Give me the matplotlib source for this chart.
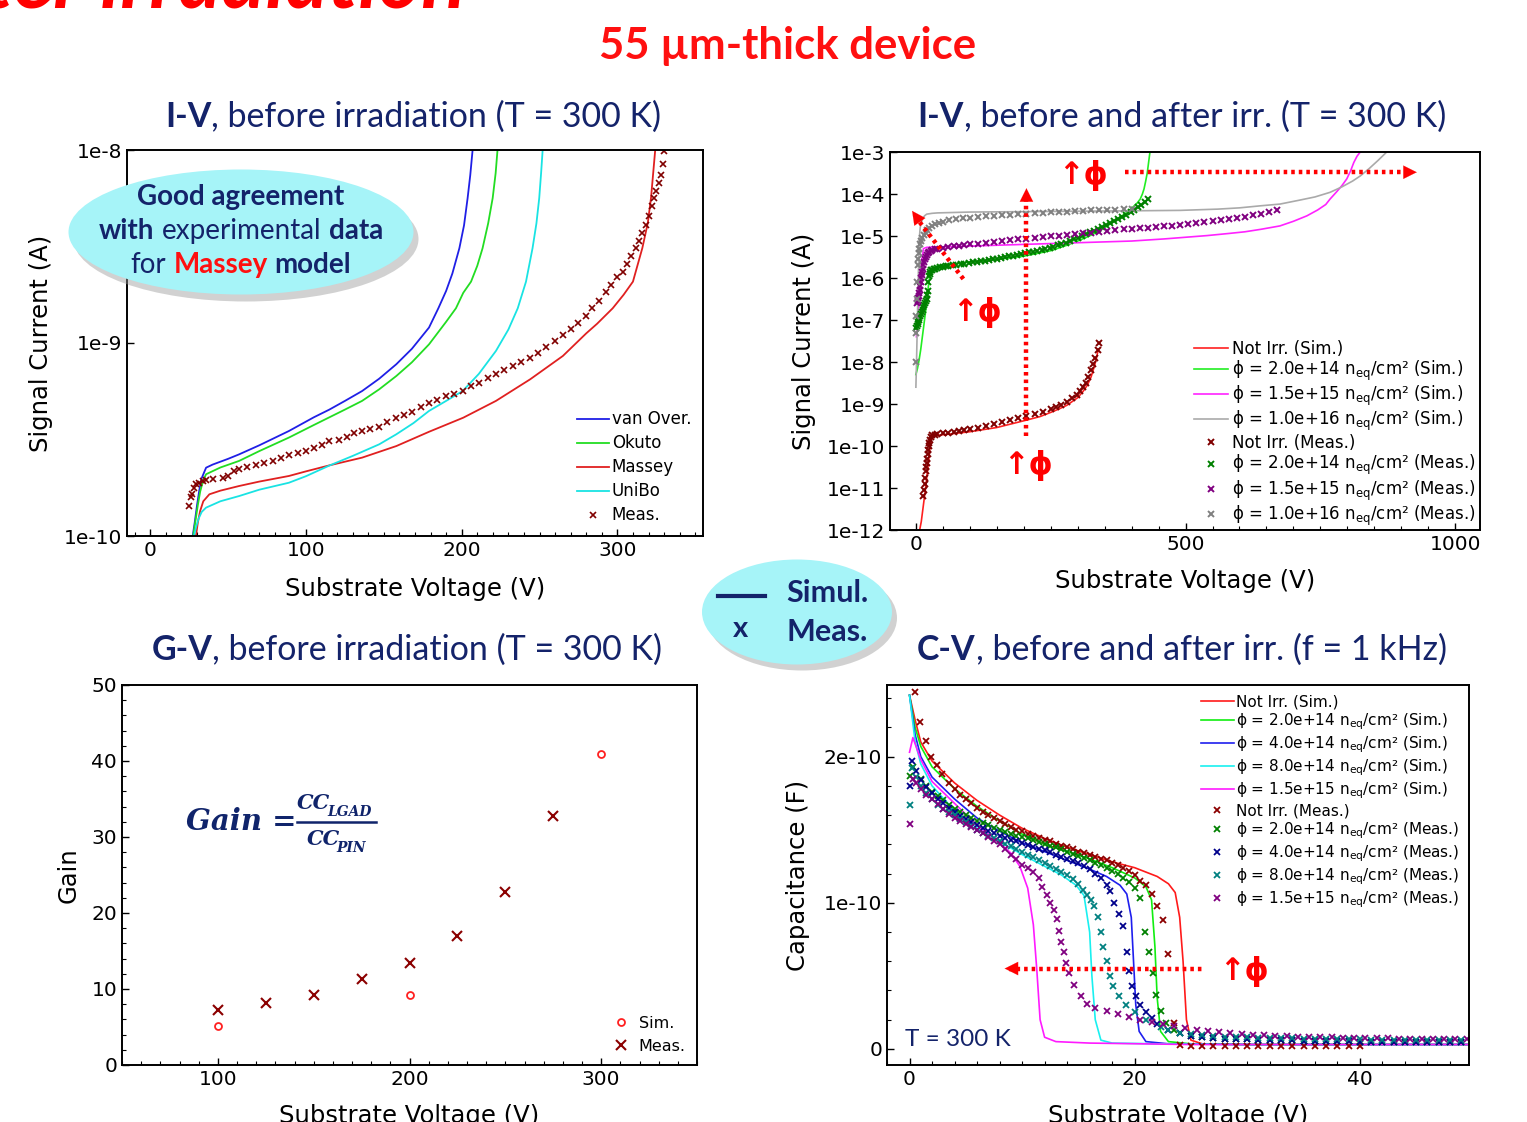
import numpy as np
import matplotlib.pyplot as plt
from matplotlib.patches import Ellipse
from matplotlib.lines import Line2D
from matplotlib.ticker import MultipleLocator, NullLocator

# ---------------- I-V before irradiation: (V, log10 of current in A) ----------------
iv_vanover = [(27.2, -10), (28.5, -9.93), (30, -9.84), (31.5, -9.76), (33, -9.70), (35.8, -9.646), (40, -9.63),
              (50, -9.60), (57, -9.577), (70, -9.53), (89, -9.456), (105, -9.385), (115, -9.345), (125, -9.30),
              (136, -9.249), (147, -9.185), (158, -9.11), (168, -9.03), (179, -8.92), (185, -8.82), (190, -8.73),
              (194, -8.64), (198.5, -8.509), (201.5, -8.39), (203.8, -8.249), (205.5, -8.13), (207, -8.0)]
iv_okuto = [(27.5, -10), (29, -9.92), (30.5, -9.84), (32, -9.77), (34, -9.71), (35.8, -9.68), (45, -9.645),
            (57, -9.611), (70, -9.56), (89, -9.49), (105, -9.425), (115, -9.385), (125, -9.345), (136, -9.30),
            (147, -9.24), (158, -9.171), (168, -9.10), (179, -9.007), (190, -8.89), (196.3, -8.82), (201, -8.74),
            (206, -8.682), (210, -8.60), (213.4, -8.509), (217, -8.38), (219.9, -8.249), (221.8, -8.12), (223, -8.0)]
iv_massey = [(29.3, -10), (30.5, -9.93), (32, -9.87), (34, -9.82), (37.9, -9.784), (45, -9.765), (57, -9.741),
             (70, -9.718), (89, -9.689), (100, -9.665), (115, -9.634), (136, -9.594), (158, -9.534), (179, -9.46),
             (201, -9.387), (222, -9.30), (244, -9.188), (265, -9.067), (280, -8.95), (287, -8.90), (297, -8.82),
             (304, -8.75), (310, -8.682), (316, -8.509), (319.5, -8.38), (321.6, -8.249), (323, -8.12),
             (324.3, -8.0)]
iv_unibo = [(28, -10), (29.5, -9.95), (31, -9.91), (33, -9.875), (35.8, -9.853), (45, -9.82), (57, -9.793),
            (70, -9.76), (89, -9.724), (100, -9.69), (115, -9.635), (130, -9.585), (147, -9.525), (158, -9.473),
            (169, -9.415), (179, -9.352), (190, -9.30), (200.6, -9.249), (211, -9.16), (222, -9.041), (230, -8.93),
            (236, -8.82), (241.3, -8.682), (245.5, -8.509), (248, -8.38), (249.8, -8.249), (251, -8.12), (252, -8.0)]
iv_meas = [(25, -9.845), (26, -9.80), (27, -9.78), (28.3, -9.75), (29.5, -9.73), (31, -9.725), (33.6, -9.715),
           (36, -9.71), (40, -9.705), (46.4, -9.698), (50, -9.69), (54, -9.665), (57.2, -9.654), (62, -9.645),
           (68, -9.63), (73, -9.62), (78.5, -9.611), (84, -9.595), (89, -9.58), (95, -9.57), (100, -9.56),
           (105, -9.545), (110, -9.53), (115, -9.51), (121, -9.50), (126, -9.485), (131, -9.465), (136, -9.455),
           (141, -9.445), (147, -9.435), (152, -9.41), (158, -9.387), (163, -9.375), (168, -9.355), (174, -9.33),
           (179, -9.31), (184, -9.295), (190, -9.275), (195, -9.265), (201, -9.249), (206, -9.225), (211, -9.205),
           (217, -9.18), (222, -9.16), (227, -9.14), (233, -9.12), (238, -9.10), (244, -9.08), (249, -9.05),
           (254, -9.02), (260, -8.99), (265, -8.96), (270, -8.93), (275, -8.895), (280, -8.86), (284, -8.82),
           (288, -8.78), (292.7, -8.734), (296, -8.70), (300, -8.66), (303.3, -8.63), (306, -8.59), (309, -8.55),
           (311.9, -8.509), (314, -8.47), (316, -8.43), (318.4, -8.388), (320, -8.34), (322, -8.29),
           (323.7, -8.249), (325, -8.21), (326.5, -8.17), (328, -8.128), (329, -8.07), (330, -8.007)]
iv1_labels = ['van Over.', 'Okuto', 'Massey', 'UniBo', 'Meas.']

# ---------------- I-V before and after irradiation: (V, log10 of current in A) ----------------
ni_sim = [(7, -12), (10, -11.8), (12, -11.6), (15, -11.3), (18, -11.0), (21, -10.65), (24, -10.3),
          (26, -10.05), (28, -9.85), (31, -9.78), (35, -9.75), (60, -9.72), (100, -9.66), (150, -9.56),
          (200, -9.4), (230, -9.3), (250, -9.2), (265, -9.12), (280, -9.03), (300, -8.85), (310, -8.7),
          (318, -8.55), (325, -8.35), (331, -8.1), (335, -7.9), (338, -7.7)]
f1_sim = [(0, -8.3), (3, -8.15), (6, -7.95), (9, -7.7), (12, -7.4), (15, -7.1), (18, -6.8), (21, -6.45),
          (24, -6.1), (27, -5.85), (30, -5.8), (40, -5.72), (100, -5.62), (150, -5.56), (200, -5.48),
          (250, -5.35), (280, -5.22), (300, -5.12), (320, -5.01), (340, -4.88), (355, -4.76), (370, -4.62),
          (380, -4.54), (390, -4.45), (400, -4.34), (410, -4.22), (416, -4.12), (420, -4.0), (423, -3.88),
          (426, -3.7), (429, -3.5), (431, -3.3), (434, -3.0)]
f2_sim = [(1, -7.4), (4, -6.8), (8, -6.1), (11, -5.6), (14, -5.3), (20, -5.27), (50, -5.26), (100, -5.24),
          (200, -5.2), (300, -5.16), (400, -5.12), (460, -5.07), (490, -5.04), (540, -4.99), (580, -4.94),
          (610, -4.9), (640, -4.84), (675, -4.76), (700, -4.65), (725, -4.52), (745, -4.38), (760, -4.25),
          (768, -4.12), (780, -3.95), (790, -3.8), (799, -3.64), (806, -3.45), (812, -3.25), (818, -3.1),
          (824, -3.0)]
f3_sim = [(0, -8.6), (1, -8.1), (2, -7.5), (3, -6.85), (4, -6.2), (5, -5.65), (6, -5.2), (7, -4.95),
          (8, -4.8), (10, -4.68), (12, -4.6), (16, -4.52), (20, -4.48), (30, -4.46), (40, -4.45), (100, -4.43),
          (200, -4.42), (300, -4.41), (400, -4.4), (490, -4.39), (560, -4.36), (600, -4.33), (640, -4.28),
          (675, -4.24), (710, -4.15), (740, -4.07), (768, -3.96), (790, -3.83), (810, -3.69), (824, -3.57),
          (840, -3.4), (857, -3.2), (873, -3.0)]
ni_meas = [(14, -11.2), (15, -11.05), (16, -10.9), (17, -10.75), (18, -10.6), (19, -10.5), (20, -10.4),
           (21, -10.3), (22, -10.2), (23, -10.1), (24, -10.0), (25, -9.92), (26, -9.85), (28, -9.78),
           (30, -9.74), (35, -9.73), (40, -9.72), (50, -9.7), (60, -9.68), (70, -9.66), (80, -9.64),
           (90, -9.62), (100, -9.6), (115, -9.565), (130, -9.53), (145, -9.475), (160, -9.42), (175, -9.375),
           (190, -9.33), (205, -9.285), (220, -9.24), (235, -9.185), (250, -9.13), (260, -9.08), (270, -9.02),
           (280, -8.95), (290, -8.86), (298, -8.78), (305, -8.7), (310, -8.6), (315, -8.5), (320, -8.36),
           (325, -8.2), (329, -8.05), (333, -7.9), (337, -7.72), (340, -7.55)]
f1_meas = [(1, -7.2), (2, -7.15), (3, -7.1), (4, -7.05), (5, -7.0), (6.5, -6.95), (8, -6.9), (9.5, -6.85),
           (11, -6.8), (12.5, -6.75), (14, -6.7), (15.5, -6.65), (17, -6.6), (18.5, -6.55), (20, -6.5),
           (21, -6.4), (22, -6.3), (23, -6.1), (24, -5.95), (25.5, -5.9), (27, -5.85), (28.5, -5.82),
           (30, -5.8), (33, -5.79), (36, -5.78), (40, -5.76), (45, -5.745), (50, -5.73), (55, -5.72),
           (60, -5.71), (68, -5.695), (75, -5.68), (83, -5.67), (90, -5.66), (98, -5.645), (105, -5.63),
           (113, -5.615), (120, -5.6), (128, -5.585), (135, -5.57), (143, -5.555), (150, -5.54), (158, -5.52),
           (165, -5.5), (173, -5.485), (180, -5.47), (188, -5.45), (195, -5.43), (203, -5.41), (210, -5.39),
           (218, -5.37), (225, -5.35), (233, -5.325), (240, -5.3), (248, -5.275), (255, -5.25), (263, -5.22),
           (270, -5.19), (278, -5.155), (285, -5.12), (293, -5.08), (300, -5.04), (308, -5.0), (315, -4.96),
           (323, -4.915), (330, -4.87), (338, -4.825), (345, -4.78), (353, -4.73), (360, -4.68),
           (368, -4.635), (375, -4.59), (383, -4.54), (390, -4.49), (398, -4.435), (405, -4.38),
           (412, -4.32), (418, -4.26), (424, -4.19), (430, -4.11)]
f2_meas = [(2, -6.6), (3, -6.54), (4, -6.48), (5, -6.42), (6, -6.35), (7, -6.28), (8, -6.2), (9, -6.1),
           (10, -6.0), (11, -5.92), (12, -5.85), (13, -5.78), (14, -5.7), (15.5, -5.62), (17, -5.55),
           (18.5, -5.5), (20, -5.45), (22.5, -5.41), (25, -5.38), (27.5, -5.36), (30, -5.34), (35, -5.32),
           (40, -5.3), (50, -5.28), (60, -5.26), (70, -5.245), (80, -5.23), (90, -5.215), (100, -5.2),
           (115, -5.18), (130, -5.16), (145, -5.14), (160, -5.12), (175, -5.1), (190, -5.08), (205, -5.065),
           (220, -5.05), (235, -5.03), (250, -5.01), (265, -4.995), (280, -4.98), (295, -4.96), (310, -4.94),
           (325, -4.92), (340, -4.9), (355, -4.88), (370, -4.86), (385, -4.845), (400, -4.83), (415, -4.815),
           (430, -4.8), (445, -4.785), (460, -4.77), (475, -4.755), (490, -4.74), (505, -4.72), (520, -4.7),
           (535, -4.675), (550, -4.65), (565, -4.625), (580, -4.6), (595, -4.57), (610, -4.54), (625, -4.505),
           (640, -4.47), (655, -4.43), (670, -4.39)]
f3_meas = [(0, -8.0), (0.5, -7.3), (1, -6.9), (1.5, -6.5), (2, -6.1), (3, -5.7), (4, -5.55), (5, -5.4),
           (6.5, -5.3), (8, -5.2), (10, -5.12), (12, -5.05), (15, -4.98), (18, -4.92), (21, -4.86), (25, -4.8),
           (30, -4.76), (35, -4.72), (42, -4.69), (50, -4.66), (62, -4.63), (75, -4.6), (88, -4.58),
           (100, -4.56), (115, -4.545), (130, -4.53), (145, -4.515), (160, -4.5), (175, -4.49), (190, -4.48),
           (205, -4.47), (220, -4.46), (235, -4.45), (250, -4.44), (265, -4.43), (280, -4.42), (295, -4.41),
           (310, -4.4), (325, -4.39), (340, -4.38), (355, -4.375), (370, -4.37), (385, -4.365), (400, -4.36)]
iv2_labels = ['Not Irr. (Sim.)',
              'ϕ = 2.0e+14 n$_{\\rm eq}$/cm² (Sim.)',
              'ϕ = 1.5e+15 n$_{\\rm eq}$/cm² (Sim.)',
              'ϕ = 1.0e+16 n$_{\\rm eq}$/cm² (Sim.)',
              'Not Irr. (Meas.)',
              'ϕ = 2.0e+14 n$_{\\rm eq}$/cm² (Meas.)',
              'ϕ = 1.5e+15 n$_{\\rm eq}$/cm² (Meas.)',
              'ϕ = 1.0e+16 n$_{\\rm eq}$/cm² (Meas.)']

# ---------------- G-V ----------------
gv_sim_v = [100, 200, 300]
gv_sim = [5.1, 9.2, 40.9]
gv_meas_v = [100, 125, 150, 175, 200, 225, 250, 275]
gv_meas = [7.2, 8.2, 9.2, 11.3, 13.4, 17.0, 22.8, 32.8]

# ---------------- C-V: (V, capacitance in units of 1e-10 F) ----------------
cv_ni_sim = [(0, 2.42), (0.5, 2.25), (1, 2.1), (2, 1.97), (4, 1.82), (6, 1.7), (8, 1.6), (10, 1.51),
             (12, 1.44), (14, 1.38), (16, 1.33), (18, 1.28), (20, 1.24), (22, 1.18), (23, 1.13), (23.6, 1.07),
             (24, 0.9), (24.3, 0.6), (24.6, 0.2), (25, 0.06), (26, 0.035), (30, 0.03), (40, 0.03), (50, 0.03)]
cv_a_sim = [(0, 2.42), (0.5, 2.2), (1, 2.07), (2, 1.93), (4, 1.78), (6, 1.66), (8, 1.56), (10, 1.47),
            (12, 1.4), (14, 1.35), (16, 1.3), (18, 1.24), (20, 1.17), (21, 1.11), (21.5, 1.02), (21.8, 0.7),
            (22, 0.35), (22.3, 0.12), (23, 0.05), (25, 0.035), (30, 0.03), (50, 0.03)]
cv_b_sim = [(0, 2.42), (0.5, 2.15), (1, 2.0), (2, 1.86), (4, 1.71), (6, 1.58), (8, 1.49), (10, 1.41),
            (12, 1.35), (14, 1.29), (16, 1.23), (17.5, 1.18), (18.7, 1.12), (19.3, 1.06), (19.7, 0.9),
            (19.9, 0.6), (20.1, 0.3), (20.4, 0.12), (21, 0.05), (23, 0.035), (30, 0.03), (50, 0.03)]
cv_c_sim = [(0, 2.42), (0.5, 2.1), (1, 1.95), (2, 1.8), (4, 1.63), (6, 1.51), (8, 1.42), (10, 1.33),
            (12, 1.25), (13.5, 1.19), (14.8, 1.12), (15.5, 1.05), (16, 0.8), (16.2, 0.5), (16.5, 0.2),
            (17, 0.06), (18, 0.04), (22, 0.035), (30, 0.03), (50, 0.03)]
cv_d_sim = [(0, 2.03), (0.3, 2.13), (1, 1.98), (2, 1.83), (4, 1.68), (6, 1.53), (8, 1.41), (9, 1.34),
            (9.8, 1.25), (10.5, 1.1), (11, 0.85), (11.3, 0.55), (11.6, 0.2), (12, 0.08), (13, 0.05),
            (16, 0.04), (25, 0.03), (50, 0.03)]
cv_ni_meas = [(0.5, 2.44), (0.9, 2.24), (1.5, 2.11), (1.9, 2.0), (2.4, 1.94), (2.9, 1.88), (3.5, 1.82),
              (4, 1.78), (4.5, 1.74), (5, 1.71), (5.5, 1.68), (6, 1.65), (6.5, 1.62), (7, 1.6), (7.5, 1.58),
              (8, 1.56), (8.5, 1.54), (9, 1.52), (9.5, 1.5), (10, 1.49), (10.5, 1.47), (11, 1.46),
              (11.5, 1.44), (12, 1.43), (12.5, 1.42), (13, 1.4), (13.5, 1.39), (14, 1.38), (14.5, 1.37),
              (15, 1.35), (15.5, 1.34), (16, 1.33), (16.5, 1.31), (17, 1.3), (17.5, 1.29), (18, 1.27),
              (18.5, 1.26), (19, 1.24), (19.5, 1.22), (20, 1.19), (20.5, 1.15), (21, 1.12), (21.5, 1.06),
              (22, 0.98), (22.5, 0.88), (23, 0.65), (23.5, 0.18), (24, 0.03), (25, 0.02), (26, 0.02),
              (27, 0.02), (28, 0.02), (29, 0.02), (30, 0.02), (31, 0.02), (32, 0.02), (33, 0.02), (34, 0.02),
              (35, 0.02), (36, 0.02), (37, 0.02), (38, 0.02), (39, 0.02), (40, 0.02)]
cv_a_meas = [(0, 1.87), (0.3, 1.93), (1, 1.85), (1.5, 1.8), (2, 1.76), (2.5, 1.73), (3, 1.7), (3.5, 1.67),
             (4, 1.64), (4.5, 1.62), (5, 1.6), (5.5, 1.58), (6, 1.56), (6.5, 1.545), (7, 1.53), (7.5, 1.515),
             (8, 1.5), (8.5, 1.485), (9, 1.47), (9.5, 1.46), (10, 1.45), (10.5, 1.44), (11, 1.43),
             (11.5, 1.415), (12, 1.4), (12.5, 1.39), (13, 1.38), (13.5, 1.365), (14, 1.35), (14.5, 1.335),
             (15, 1.32), (15.5, 1.305), (16, 1.29), (16.5, 1.275), (17, 1.26), (17.5, 1.24), (18, 1.22),
             (18.5, 1.2), (19, 1.17), (19.5, 1.14), (20, 1.1), (20.5, 1.03), (20.9, 0.8), (21.3, 0.66),
             (21.6, 0.52), (21.9, 0.37), (22.3, 0.26), (22.8, 0.18), (23.5, 0.13), (24, 0.11), (25, 0.09),
             (26, 0.08), (27, 0.075), (28, 0.07), (29, 0.068), (30, 0.065), (31, 0.062), (32, 0.06),
             (33, 0.059), (34, 0.058), (35, 0.056), (36, 0.055), (37, 0.054), (38, 0.053), (39, 0.052),
             (40, 0.05), (41, 0.05), (42, 0.05), (43, 0.05), (44, 0.05), (45, 0.05), (46, 0.05), (47, 0.05),
             (48, 0.05), (49, 0.05), (50, 0.05)]
cv_b_meas = [(0, 1.8), (0.2, 1.97), (0.6, 1.9), (1, 1.84), (1.5, 1.79), (2, 1.75), (2.5, 1.71), (3, 1.68),
             (3.5, 1.65), (4, 1.62), (4.5, 1.595), (5, 1.57), (5.5, 1.55), (6, 1.53), (6.5, 1.51), (7, 1.49),
             (7.5, 1.475), (8, 1.46), (8.5, 1.445), (9, 1.43), (9.5, 1.42), (10, 1.41), (10.5, 1.395),
             (11, 1.38), (11.5, 1.37), (12, 1.36), (12.5, 1.345), (13, 1.33), (13.5, 1.315), (14, 1.3),
             (14.5, 1.285), (15, 1.27), (15.5, 1.25), (16, 1.23), (16.5, 1.2), (17, 1.17), (17.5, 1.12),
             (17.8, 1.08), (18.2, 1.0), (18.6, 0.92), (19, 0.84), (19.3, 0.66), (19.5, 0.53), (19.8, 0.43),
             (20.1, 0.36), (20.5, 0.3), (21, 0.25), (21.5, 0.21), (22, 0.17), (23, 0.13), (24, 0.11),
             (25, 0.09), (26, 0.08), (27, 0.075), (28, 0.07), (29, 0.067), (30, 0.065), (31, 0.062),
             (32, 0.06), (33, 0.059), (34, 0.058), (35, 0.056), (36, 0.055), (37, 0.054), (38, 0.053),
             (39, 0.052), (40, 0.05), (41, 0.05), (42, 0.05), (43, 0.05), (44, 0.05), (45, 0.05), (46, 0.05),
             (47, 0.05), (48, 0.05), (49, 0.05), (50, 0.05)]
cv_c_meas = [(0, 1.67), (0.2, 1.92), (0.6, 1.86), (1, 1.8), (1.5, 1.75), (2, 1.71), (2.5, 1.67), (3, 1.64),
             (3.5, 1.62), (4, 1.6), (4.5, 1.575), (5, 1.55), (5.5, 1.525), (6, 1.5), (6.5, 1.48), (7, 1.46),
             (7.5, 1.44), (8, 1.42), (8.5, 1.405), (9, 1.39), (9.5, 1.37), (10, 1.35), (10.5, 1.33),
             (11, 1.31), (11.5, 1.29), (12, 1.27), (12.5, 1.25), (13, 1.23), (13.5, 1.21), (14, 1.19),
             (14.5, 1.16), (15, 1.13), (15.4, 1.09), (15.8, 1.05), (16.1, 1.02), (16.4, 0.98), (16.7, 0.9),
             (17, 0.8), (17.2, 0.7), (17.5, 0.6), (17.8, 0.5), (18.1, 0.43), (18.6, 0.36), (19.2, 0.3),
             (20, 0.25), (21, 0.2), (22.3, 0.15), (23, 0.13), (24, 0.11), (25, 0.1), (26, 0.095), (27, 0.09),
             (28, 0.085), (29, 0.082), (30, 0.08), (31, 0.078), (32, 0.075), (33, 0.073), (34, 0.072),
             (35, 0.071), (36, 0.07), (37, 0.069), (38, 0.068), (39, 0.066), (40, 0.065), (41, 0.064),
             (42, 0.063), (43, 0.063), (44, 0.062), (45, 0.061), (46, 0.06), (47, 0.06), (48, 0.06),
             (49, 0.06), (50, 0.06)]
cv_d_meas = [(0, 1.54), (0.3, 1.85), (0.6, 1.82), (1, 1.78), (1.5, 1.74), (2, 1.71), (2.5, 1.675), (3, 1.64),
             (3.5, 1.61), (4, 1.58), (4.5, 1.56), (5, 1.54), (5.5, 1.52), (6, 1.5), (6.5, 1.475), (7, 1.45),
             (7.5, 1.425), (8, 1.4), (8.5, 1.37), (9, 1.33), (9.5, 1.3), (10, 1.26), (10.5, 1.24), (11, 1.21),
             (11.5, 1.17), (11.8, 1.11), (12.2, 1.05), (12.5, 1.0), (12.8, 0.95), (13.1, 0.89), (13.3, 0.81),
             (13.5, 0.73), (13.7, 0.66), (13.9, 0.59), (14.2, 0.52), (14.6, 0.44), (15.2, 0.36), (15.8, 0.31),
             (16.5, 0.28), (17.5, 0.26), (18.5, 0.24), (19.5, 0.22), (20.5, 0.2), (21.5, 0.185), (22.5, 0.17),
             (23.5, 0.155), (24.5, 0.14), (25.5, 0.13), (26.5, 0.12), (27.5, 0.113), (28.5, 0.107),
             (29.5, 0.102), (30.5, 0.098), (31.5, 0.094), (32.5, 0.09), (33.5, 0.087), (34.5, 0.085),
             (35.5, 0.083), (36.5, 0.081), (37.5, 0.079), (38.5, 0.077), (39.5, 0.076), (40.5, 0.075),
             (41.5, 0.073), (42.5, 0.072), (43.5, 0.071), (44.5, 0.07), (45.5, 0.069), (46.5, 0.068),
             (47.5, 0.067), (48.5, 0.067), (49.5, 0.066)]
cv_labels = ['Not Irr. (Sim.)',
             'ϕ = 2.0e+14 n$_{\\rm eq}$/cm² (Sim.)',
             'ϕ = 4.0e+14 n$_{\\rm eq}$/cm² (Sim.)',
             'ϕ = 8.0e+14 n$_{\\rm eq}$/cm² (Sim.)',
             'ϕ = 1.5e+15 n$_{\\rm eq}$/cm² (Sim.)',
             'Not Irr. (Meas.)',
             'ϕ = 2.0e+14 n$_{\\rm eq}$/cm² (Meas.)',
             'ϕ = 4.0e+14 n$_{\\rm eq}$/cm² (Meas.)',
             'ϕ = 8.0e+14 n$_{\\rm eq}$/cm² (Meas.)',
             'ϕ = 1.5e+15 n$_{\\rm eq}$/cm² (Meas.)']

plt.rcParams['font.family'] = ['DejaVu Sans']
NAVY = '#14236a'
SLIDE = ['Lato', 'DejaVu Sans']
W, H = 1527, 1122

fig = plt.figure(figsize=(W / 100, H / 100), dpi=100)


def px(x, y):
    return x / W, 1 - y / H


def cols(pairs):
    v, y = zip(*pairs)
    return np.array(v, dtype=float), np.array(y, dtype=float)


def rich_line(xc, y, parts, size, family=SLIDE, z=12):
    # parts: (text, weight, color); a leading space means a word gap
    r = fig.canvas.get_renderer()

    def width(s, wt):
        t = fig.text(0, 0, s, fontsize=size, fontweight=wt, family=family)
        w = t.get_window_extent(r).width
        t.remove()
        return w
    gap = width('a a', 'normal') - width('aa', 'normal')
    total = 0
    items = []
    for s, wt, c in parts:
        lead = s.startswith(' ')
        s = s.strip()
        w = width(s, wt)
        total += w + (gap if lead else 0)
        items.append((s, wt, c, lead, w))
    x = xc * W - total / 2
    for s, wt, c, lead, w in items:
        if lead:
            x += gap
        fig.text(x / W, y, s, fontsize=size, fontweight=wt, family=family, color=c,
                 ha='left', va='center', zorder=z)
        x += w


def style(ax):
    for s in ax.spines.values():
        s.set_linewidth(1.4)
    ax.tick_params(direction='in', which='both', top=False, right=False, labelsize=14.5)
    ax.tick_params(which='major', length=5, width=1)
    ax.tick_params(which='minor', length=3, width=0.8)


# ---- slide texts ----
fig.text(*px(466, 8), 'After irradiation', color='red', fontsize=59, fontweight='bold',
         fontstyle='italic', family=SLIDE, ha='right', va='baseline')
fig.text(*px(788, 46), '55 µm-thick device', color='#ff1010', fontsize=31.5, fontweight='bold',
         family=SLIDE, ha='center', va='center')

TS = 24.5
rich_line(413 / W, 1 - 117 / H, [('I-V', 'bold', NAVY), (', before irradiation (T = 300 K)', 'normal', NAVY)], TS)
rich_line(1182 / W, 1 - 117 / H, [('I-V', 'bold', NAVY), (', before and after irr. (T = 300 K)', 'normal', NAVY)], TS)
rich_line(407 / W, 1 - 650 / H, [('G-V', 'bold', NAVY), (', before irradiation (T = 300 K)', 'normal', NAVY)], TS)
rich_line(1182 / W, 1 - 650 / H, [('C-V', 'bold', NAVY), (', before and after irr. (f = 1 kHz)', 'normal', NAVY)], TS)

# ---- panel 1: I-V before irradiation ----
ax1 = fig.add_axes([127 / W, 1 - 536 / H, 576 / W, 386 / H])
ax1.set_yscale('log')
for pairs, col in [(iv_vanover, '#1f1fe6'), (iv_okuto, '#22dd22'), (iv_massey, '#e02020'), (iv_unibo, '#19e3e3')]:
    v, lg = cols(pairs)
    ax1.plot(v, 10.0 ** lg, color=col, lw=1.3)
v, lg = cols(iv_meas)
ax1.plot(v, 10.0 ** lg, 'x', color='#800000', ms=4.5, mew=1.2)
ax1.set_xlim(-15, 355)
ax1.set_ylim(1e-10, 1e-8)
ax1.set_yticks([1e-10, 1e-9, 1e-8], ['1e-10', '1e-9', '1e-8'])
ax1.yaxis.set_minor_locator(NullLocator())
ax1.set_xticks([0, 100, 200, 300])
ax1.xaxis.set_minor_locator(MultipleLocator(10))
style(ax1)
ax1.set_ylabel('Signal Current (A)', fontsize=17.5, labelpad=8)
ax1.set_xlabel('Substrate Voltage (V)', fontsize=17.5, labelpad=12)
ax1.legend(ax1.get_lines(), iv1_labels, loc='lower right', frameon=False, fontsize=12, handlelength=1.9,
           labelspacing=0.36, handletextpad=0.2, borderaxespad=0.3, numpoints=1)

# ---- panel 2: I-V before and after irradiation ----
ax2 = fig.add_axes([890 / W, 1 - 530 / H, 590 / W, 378 / H])
ax2.set_yscale('log')
for pairs, col in [(ni_sim, '#ff2020'), (f1_sim, '#22ee22'), (f2_sim, '#ff22ff'), (f3_sim, '#aaaaaa')]:
    v, lg = cols(pairs)
    ax2.plot(v, 10.0 ** lg, color=col, lw=1.2)
for pairs, col in [(ni_meas, '#800000'), (f1_meas, '#008000'), (f2_meas, '#800080'), (f3_meas, '#808080')]:
    v, lg = cols(pairs)
    ax2.plot(v, 10.0 ** lg, 'x', color=col, ms=5, mew=1.4)
ax2.set_xlim(-48, 1046)
ax2.set_ylim(1e-12, 1e-3)
dec = np.arange(-12, -2)
ax2.set_yticks(10.0 ** dec, [f'1e{d}' for d in dec])
ax2.yaxis.set_minor_locator(NullLocator())
ax2.set_xticks([0, 500, 1000])
ax2.xaxis.set_minor_locator(MultipleLocator(50))
style(ax2)
ax2.set_ylabel('Signal Current (A)', fontsize=17.5, labelpad=8)
ax2.set_xlabel('Substrate Voltage (V)', fontsize=17.5, labelpad=11)
ax2.legend(ax2.get_lines(), iv2_labels, loc='lower right', bbox_to_anchor=(1.003, -0.012), frameon=False,
           fontsize=12, handlelength=2.0, labelspacing=0.06, handletextpad=0.25, borderaxespad=0.0,
           numpoints=1)

# dotted arrows and flux labels
dot = dict(color='red', lw=3.2, ls=(0, (0.8, 0.9)))
head = dict(arrowstyle='-|>', color='red', lw=0.1, mutation_scale=24)
ax2.plot([387, 915], [3.3e-4, 3.3e-4], **dot)
ax2.annotate('', xy=(934, 3.3e-4), xytext=(905, 3.3e-4), arrowprops=head)
ax2.plot([205, 205], [1.7e-10, 1.0e-4], **dot)
ax2.annotate('', xy=(205, 1.6e-4), xytext=(205, 8e-5), arrowprops=head)
ax2.plot([88, 0], [9.5e-7, 2.8e-5], **dot)
ax2.annotate('', xy=(-10, 4.5e-5), xytext=(3, 2.6e-5), arrowprops=head)
for xv, yv in [(310, 2.8e-4), (114, 1.5e-7), (208, 3.4e-11)]:
    ax2.text(xv, yv, '↑ϕ', color='red', fontsize=22, fontweight='bold', ha='center', va='center')

# ---- panel 3: G-V ----
ax3 = fig.add_axes([122 / W, 1 - 1065 / H, 575 / W, 380 / H])
ax3.plot(gv_sim_v, gv_sim, 'o', mfc='none', mec='#ff2020', ms=5, mew=1.3, label='Sim.')
ax3.plot(gv_meas_v, gv_meas, 'x', color='#8b0000', ms=6.5, mew=1.5, label='Meas.')
ax3.set_xlim(50, 350)
ax3.set_ylim(0, 50)
ax3.set_xticks([100, 200, 300])
ax3.xaxis.set_minor_locator(MultipleLocator(10))
ax3.yaxis.set_minor_locator(MultipleLocator(2))
style(ax3)
ax3.set_ylabel('Gain', fontsize=17.5, labelpad=8)
ax3.set_xlabel('Substrate Voltage (V)', fontsize=17.5, labelpad=11)
ax3.legend(loc='lower right', frameon=False, fontsize=11.5, handlelength=1.2, labelspacing=0.5,
           handletextpad=0.5, borderaxespad=0.3, numpoints=1)

serif = dict(family='DejaVu Serif', fontweight='bold', fontstyle='italic', color='#10246b',
             ha='left', va='center')
fig.text(*px(186, 821), 'Gain =', fontsize=21, **serif)
fig.text(*px(297, 803), 'CC', fontsize=15, **serif)
fig.text(*px(327, 812), 'LGAD', fontsize=10, **serif)
fig.text(*px(307, 839), 'CC', fontsize=15, **serif)
fig.text(*px(336, 848), 'PIN', fontsize=10, **serif)
fig.add_artist(Line2D([297 / W, 376 / W], [1 - 822 / H] * 2, color='#10246b', lw=1.8))

# ---- panel 4: C-V ----
ax4 = fig.add_axes([887 / W, 1 - 1065 / H, 582 / W, 380 / H])
e10 = 1e-10
for pairs, col in [(cv_ni_sim, '#ff1a1a'), (cv_a_sim, '#11ee11'), (cv_b_sim, '#1f1fee'),
                   (cv_c_sim, '#19f0f0'), (cv_d_sim, '#ff1aff')]:
    v, c = cols(pairs)
    ax4.plot(v, c * e10, color=col, lw=1.2)
for pairs, col in [(cv_ni_meas, '#8b0000'), (cv_a_meas, '#008000'), (cv_b_meas, '#00008b'),
                   (cv_c_meas, '#008080'), (cv_d_meas, '#800080')]:
    v, c = cols(pairs)
    ax4.plot(v, c * e10, 'x', color=col, ms=5, mew=1.3)
ax4.set_xlim(-2, 49.7)
ax4.set_ylim(-0.11e-10, 2.49e-10)
ax4.set_yticks([0, 1e-10, 2e-10], ['0', '1e-10', '2e-10'])
ax4.yaxis.set_minor_locator(MultipleLocator(0.2e-10))
ax4.set_xticks([0, 20, 40])
ax4.xaxis.set_minor_locator(MultipleLocator(2))
style(ax4)
ax4.set_ylabel('Capacitance (F)', fontsize=17.5, labelpad=10)
ax4.set_xlabel('Substrate Voltage (V)', fontsize=17.5, labelpad=11)
ax4.legend(ax4.get_lines(), cv_labels, loc='upper right', frameon=False, fontsize=11,
           handlelength=2.2, labelspacing=0.15, handletextpad=0.15, borderaxespad=0.2, numpoints=1)
ax4.plot([8.8, 26.2], [0.55e-10, 0.55e-10], **dot)
ax4.annotate('', xy=(8.2, 0.55e-10), xytext=(9.6, 0.55e-10), arrowprops=head)
ax4.text(29.7, 0.53e-10, '↑ϕ', color='red', fontsize=22, fontweight='bold', ha='center', va='center')
fig.text(*px(905, 1040), 'T = 300 K', fontsize=17.5, family=SLIDE, color=NAVY, ha='left', va='center')

# ---- callout bubbles ----
fig.add_artist(Ellipse(px(246, 239), 345 / W, 125 / H, fc='#9a9a9a', ec='none', alpha=0.45, zorder=9))
fig.add_artist(Ellipse(px(241, 232), 345 / W, 125 / H, fc='#a6f4f8', ec='none', zorder=10))
rich_line(241 / W, 1 - 197 / H, [('Good agreement', 'bold', NAVY)], 20)
rich_line(241 / W, 1 - 231 / H, [('with', 'bold', NAVY), (' experimental', 'normal', NAVY),
                                 (' data', 'bold', NAVY)], 20)
rich_line(241 / W, 1 - 265 / H, [('for', 'normal', NAVY), (' Massey', 'bold', '#ff1010'),
                                 (' model', 'bold', NAVY)], 20)

fig.add_artist(Ellipse(px(802, 618), 190 / W, 105 / H, fc='#9a9a9a', ec='none', alpha=0.45, zorder=9))
fig.add_artist(Ellipse(px(797, 612), 190 / W, 105 / H, fc='#a6f4f8', ec='none', zorder=10))
fig.add_artist(Line2D([718 / W, 765 / W], [1 - 596 / H] * 2, color=NAVY, lw=3, zorder=12))
fig.text(*px(741, 629), 'x', fontsize=21, fontweight='bold', family=SLIDE, color=NAVY,
         ha='center', va='center', zorder=12)
fig.text(*px(786, 593), 'Simul.', fontsize=22, fontweight='bold', family=SLIDE, color=NAVY,
         ha='left', va='center', zorder=12)
fig.text(*px(786, 632), 'Meas.', fontsize=22, fontweight='bold', family=SLIDE, color=NAVY,
         ha='left', va='center', zorder=12)

fig.savefig('out.png', dpi=100)
